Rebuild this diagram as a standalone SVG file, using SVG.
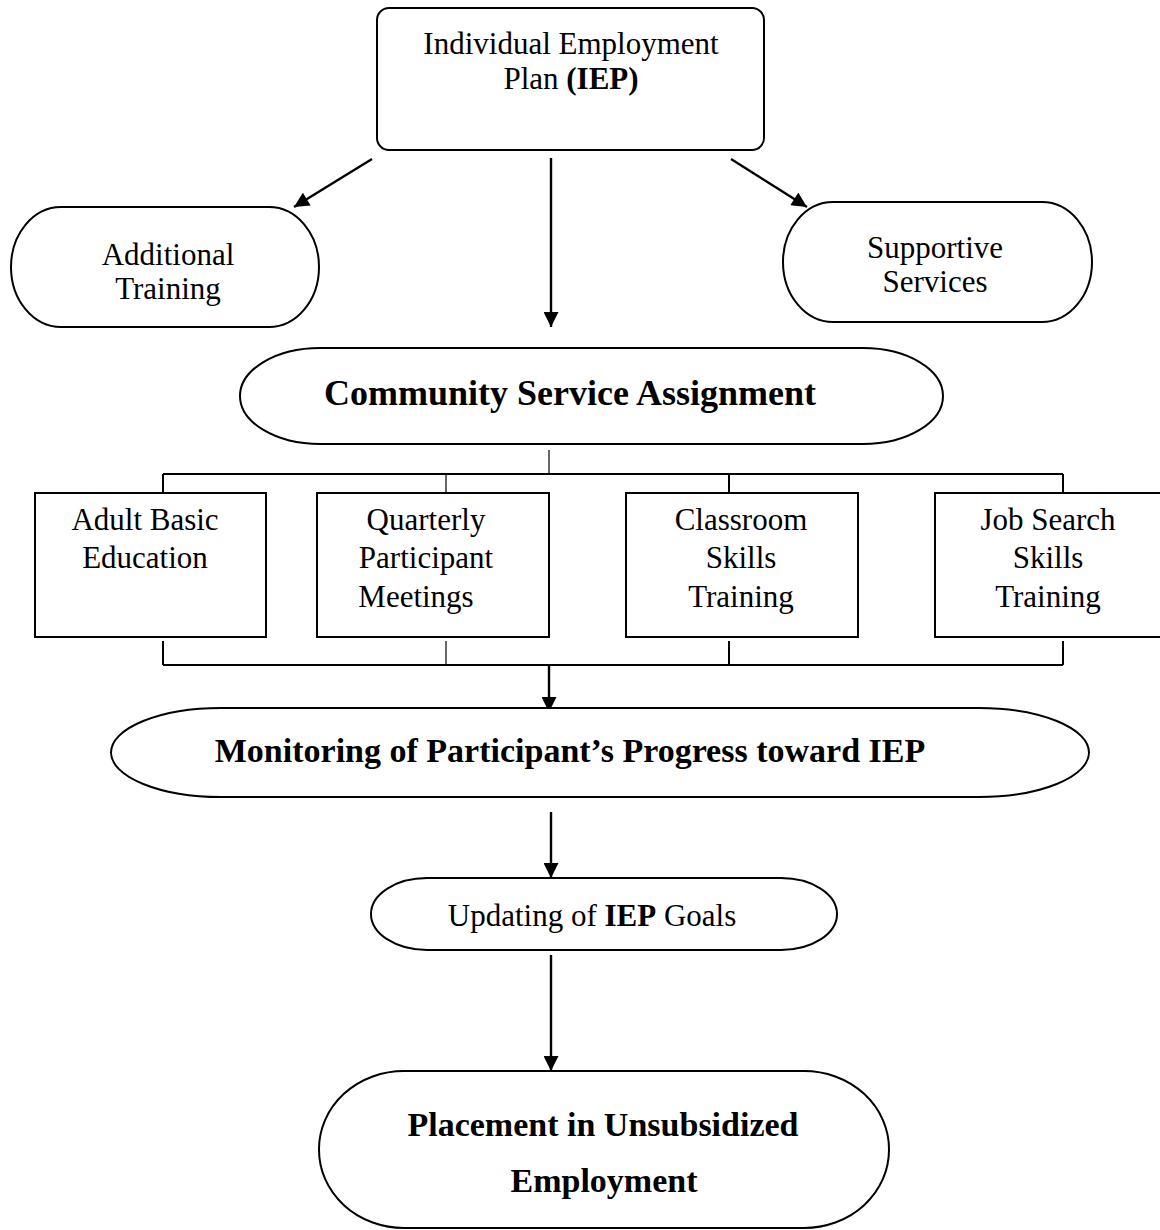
<svg xmlns="http://www.w3.org/2000/svg" width="1160" height="1230" viewBox="0 0 1160 1230">
<defs>
<style>
.shape{fill:#fff;stroke:#000;stroke-width:2}
.t{font-family:"Liberation Serif","Times New Roman",serif;font-size:31px;fill:#000;text-anchor:middle}
.b{font-weight:bold}
.c{stroke:#000;stroke-width:2;fill:none}
.thin{stroke:#000;stroke-width:1.2;fill:none}
.a{stroke:#000;stroke-width:2.4;fill:none;marker-end:url(#ah)}
</style>
<marker id="ah" markerUnits="userSpaceOnUse" viewBox="0 0 16 16" refX="16" refY="8" markerWidth="16" markerHeight="15" orient="auto">
<path d="M0,0 L16,8 L0,16 z" fill="#000"/>
</marker>
</defs>
<rect width="1160" height="1230" fill="#fff"/>

<g id="connectors">
<line class="a" x1="372" y1="159" x2="294" y2="207"/>
<line class="a" x1="551" y1="158" x2="551" y2="327"/>
<line class="a" x1="731" y1="159" x2="807" y2="207"/>
<line class="thin" x1="549" y1="450" x2="549" y2="474"/>
<line class="c" x1="163" y1="474" x2="1063" y2="474"/>
<line class="c" x1="163" y1="474" x2="163" y2="497"/>
<line class="thin" x1="446" y1="474" x2="446" y2="497"/>
<line class="c" x1="729" y1="474" x2="729" y2="497"/>
<line class="c" x1="1063" y1="474" x2="1063" y2="497"/>
<line class="c" x1="163" y1="641" x2="163" y2="665"/>
<line class="thin" x1="446" y1="641" x2="446" y2="665"/>
<line class="c" x1="729" y1="641" x2="729" y2="665"/>
<line class="c" x1="1063" y1="641" x2="1063" y2="665"/>
<line class="c" x1="163" y1="665" x2="1063" y2="665"/>
<line class="a" x1="549" y1="665" x2="549" y2="712"/>
<line class="a" x1="551" y1="812" x2="551" y2="878"/>
<line class="a" x1="551" y1="955" x2="551" y2="1071"/>
</g>

<g id="iep">
<rect class="shape" x="377" y="8" width="387" height="142" rx="12" ry="12"/>
<text class="t" x="571" y="54">Individual Employment</text>
<text class="t" x="571" y="89">Plan <tspan class="b">(IEP)</tspan></text>
</g>

<g id="additional-training">
<rect class="shape" x="11" y="207" width="308" height="120" rx="50" ry="60"/>
<text class="t" x="168" y="265">Additional</text>
<text class="t" x="168" y="299">Training</text>
</g>

<g id="supportive-services">
<rect class="shape" x="783" y="202" width="309" height="120" rx="50" ry="60"/>
<text class="t" x="935" y="258">Supportive</text>
<text class="t" x="935" y="292">Services</text>
</g>

<g id="community-service">
<rect class="shape" x="240" y="348" width="703" height="96" rx="80" ry="48"/>
<text class="t b" x="570" y="405" style="font-size:36px">Community Service Assignment</text>
</g>

<g id="adult-basic">
<rect class="shape" x="35" y="493" width="231" height="144"/>
<text class="t" x="145" y="530">Adult Basic</text>
<text class="t" x="145" y="568">Education</text>
</g>

<g id="quarterly">
<rect class="shape" x="317" y="493" width="232" height="144"/>
<text class="t" x="426" y="530">Quarterly</text>
<text class="t" x="426" y="568">Participant</text>
<text class="t" x="416" y="607">Meetings</text>
</g>

<g id="classroom">
<rect class="shape" x="626" y="493" width="232" height="144"/>
<text class="t" x="741" y="530">Classroom</text>
<text class="t" x="741" y="568">Skills</text>
<text class="t" x="741" y="607">Training</text>
</g>

<g id="job-search">
<rect class="shape" x="935" y="493" width="240" height="144"/>
<text class="t" x="1048" y="530">Job Search</text>
<text class="t" x="1048" y="568">Skills</text>
<text class="t" x="1048" y="607">Training</text>
</g>

<g id="monitoring">
<rect class="shape" x="111" y="708" width="978" height="89" rx="110" ry="44.5"/>
<text class="t b" x="570" y="762" style="font-size:34px">Monitoring of Participant’s Progress toward IEP</text>
</g>

<g id="updating">
<rect class="shape" x="371" y="878" width="466" height="72" rx="56" ry="36"/>
<text class="t" x="592" y="926">Updating of <tspan class="b">IEP</tspan> Goals</text>
</g>

<g id="placement">
<rect class="shape" x="319" y="1071" width="570" height="157" rx="85" ry="78"/>
<text class="t b" x="603" y="1136" style="font-size:34px">Placement in Unsubsidized</text>
<text class="t b" x="604" y="1192" style="font-size:34px">Employment</text>
</g>
</svg>
